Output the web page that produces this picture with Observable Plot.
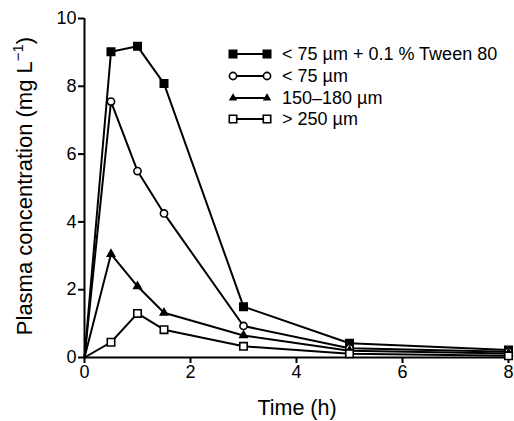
<!DOCTYPE html>
<html>
<head>
<meta charset="utf-8">
<script src="https://cdn.jsdelivr.net/npm/d3@7"></script>
<script src="https://cdn.jsdelivr.net/npm/@observablehq/plot@0.6"></script>
<style>
  html, body { margin: 0; padding: 0; background: #fff; }
  svg { font-family: "Liberation Sans", Arial, sans-serif; }
</style>
</head>
<body>
<div id="chart"></div>
<script>
const times = [0, 0.5, 1, 1.5, 3, 5, 8];
const seriesNames = ["< 75 µm + 0.1 % Tween 80", "< 75 µm", "150–180 µm", "> 250 µm"];
const tween = [0, 9.02, 9.18, 8.08, 1.5, 0.42, 0.22];
const fine = [0, 7.55, 5.5, 4.25, 0.93, 0.27, 0.17];
const mid = [0, 3.05, 2.1, 1.32, 0.65, 0.2, 0.12];
const coarse = [0, 0.45, 1.3, 0.82, 0.33, 0.11, 0.05];
const xTicks = [0, 2, 4, 6, 8];
const yTicks = [0, 2, 4, 6, 8, 10];

const seriesValues = [tween, fine, mid, coarse];
const symbols = ["square", "circle", "triangle", "square"];
const fills = ["black", "white", "black", "white"];
const radii = [4.2, 3.6, 2.7, 4.2];

const data = [];
seriesValues.forEach((vals, i) => {
  vals.forEach((v, j) => data.push({series: seriesNames[i], idx: i, t: times[j], c: v}));
});

const marks = [];
seriesNames.forEach((name, i) => {
  const d = data.filter(r => r.idx === i);
  marks.push(Plot.line(d, {x: "t", y: "c", stroke: "black", strokeWidth: 2}));
});
seriesNames.forEach((name, i) => {
  const d = data.filter(r => r.idx === i && r.t > 0);
  marks.push(Plot.dot(d, {x: "t", y: "c", symbol: () => symbols[i], r: radii[i], fill: fills[i], stroke: "black", strokeWidth: 1.6}));
});

const chart = Plot.plot({
  width: 514,
  height: 421,
  marginLeft: 84,
  marginRight: 6,
  marginTop: 18,
  marginBottom: 64,
  style: {fontFamily: "Liberation Sans, Arial, sans-serif", fontSize: "18px", color: "black", background: "white"},
  x: {domain: [0, 8]},
  y: {domain: [0, 10]},
  symbol: {type: "identity"},
  marks: [
    Plot.axisX({ticks: xTicks, tickSize: 6, tickPadding: 2, strokeWidth: 2, fontSize: 18, label: null, tickFormat: d => String(d)}),
    Plot.axisY({ticks: yTicks, tickSize: 6, tickPadding: 2, strokeWidth: 2, fontSize: 18, label: null, tickFormat: d => String(d)}),
    Plot.ruleY([0], {strokeWidth: 2}),
    Plot.ruleX([0], {strokeWidth: 2}),
    ...marks
  ]
});
document.getElementById("chart").appendChild(chart);

const svg = d3.select(chart);
// Axis titles
svg.append("text")
  .attr("x", 297).attr("y", 415)
  .attr("text-anchor", "middle")
  .attr("font-size", 21.5)
  .attr("fill", "black")
  .text("Time (h)");

const yl = svg.append("text")
  .attr("transform", "translate(32,186) rotate(-90)")
  .attr("text-anchor", "middle")
  .attr("font-size", 22)
  .attr("fill", "black");
yl.append("tspan").text("Plasma concentration (mg L");
yl.append("tspan").attr("font-size", 15).attr("dy", -9).text("−1");
yl.append("tspan").attr("dy", 9).text(")");

// Legend
const lg = svg.append("g");
const legendY = [54, 76, 98, 119];
const symMap = {square: d3.symbolSquare, circle: d3.symbolCircle, triangle: d3.symbolTriangle2};
seriesNames.forEach((name, i) => {
  const y = legendY[i];
  lg.append("line").attr("x1", 233).attr("x2", 267).attr("y1", y).attr("y2", y)
    .attr("stroke", "black").attr("stroke-width", 2);
  const size = Math.PI * radii[i] * radii[i];
  [233, 267].forEach(x => {
    lg.append("path").attr("d", d3.symbol(symMap[symbols[i]], size)())
      .attr("transform", `translate(${x},${y})`)
      .attr("fill", fills[i]).attr("stroke", "black").attr("stroke-width", 1.6);
  });
  lg.append("text").attr("x", 282).attr("y", y).attr("dy", "0.35em")
    .attr("text-anchor", "start")
    .attr("font-size", 18).attr("fill", "black").text(name);
});
</script>
</body>
</html>
